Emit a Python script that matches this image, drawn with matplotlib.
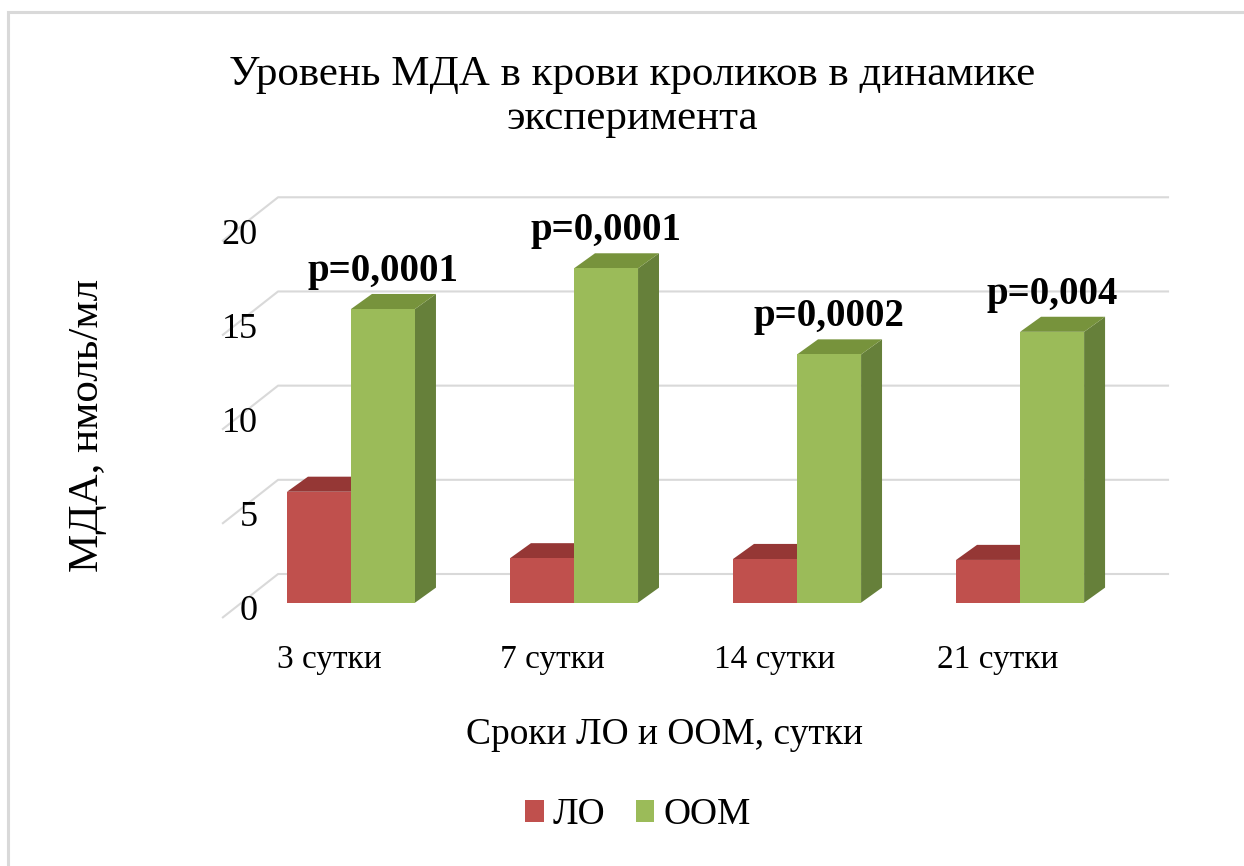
import matplotlib.pyplot as plt
import numpy as np
from matplotlib.patches import Polygon, Patch, Rectangle

plt.rcParams['font.family'] = ['Liberation Serif', 'DejaVu Serif']

days    = ['3 сутки', '7 сутки', '14 сутки', '21 сутки']
lo      = [5.89, 2.36, 2.32, 2.27]
oom     = [15.59, 17.75, 13.18, 14.38]
pvals   = ['p=0,0001', 'p=0,0001', 'p=0,0002', 'p=0,004']
yticks  = [0, 5, 10, 15, 20]

# front / top / side colours of the pseudo-3D columns
red   = ('#C0504D', '#953735', '#7F2C2A')
green = ('#9BBB59', '#77933C', '#66803A')

W = 0.287              # column width, category units
DX, DY = 0.094, 0.80   # depth shift of the column top/side
FLOOR_X0, FLOOR_X1, WALL_X1 = -0.578, -0.327, 3.668

fig = plt.figure(figsize=(12.44, 8.66), dpi=100)
fig.patches.append(Rectangle((8/1244, -0.1), 1.2, 1 - 12/866 + 0.1, transform=fig.transFigure,
                             fill=False, edgecolor='#d9d9d9', lw=2.2))
ax = fig.add_axes([200/1244, (866-625)/866, 980/1244, 445/866])
ax.set_xlim(-0.677, 3.717)
ax.set_ylim(-1.184, 22.44)
ax.axis('off')

# back wall gridlines with slanted floor part
for v in yticks:
    ax.plot([FLOOR_X0, FLOOR_X1, WALL_X1], [v - 0.812, v + 1.523, v + 1.523],
            color='#d9d9d9', lw=1.5, zorder=1, solid_capstyle='butt')
    ax.text(-0.417, v - 0.49, str(v), ha='right', va='center', fontsize=26)


def column(x0, h, cols):
    front, top, side = cols
    ax.add_patch(Polygon([(x0 + W, 0), (x0 + W + DX, DY), (x0 + W + DX, h + DY), (x0 + W, h)],
                         closed=True, facecolor=side, edgecolor='none', zorder=2))
    ax.add_patch(Polygon([(x0, h), (x0 + DX, h + DY), (x0 + W + DX, h + DY), (x0 + W, h)],
                         closed=True, facecolor=top, edgecolor='none', zorder=2))
    ax.bar(x0, h, width=W, align='edge', color=front, zorder=3)


x = np.arange(len(days))
for i in x:
    column(i - W, lo[i], red)
    column(i, oom[i], green)
    ax.annotate(pvals[i], (i + W / 2, oom[i] + DY), xytext=(0, 3), textcoords='offset points',
                ha='center', va='bottom', fontsize=28, fontweight='bold', zorder=4)
    ax.text(i - 0.099, -3.04, days[i], ha='center', va='center', fontsize=24, clip_on=False)

fig.text(632/1244, 1 - 97/866, 'Уровень МДА в крови кроликов в динамике\nэксперимента',
         ha='center', va='center', fontsize=31, linespacing=1.2)
fig.text(88/1244, 1 - 425/866, 'МДА, нмоль/мл', rotation=90, ha='center', va='center', fontsize=31)
fig.text(665/1244, 1 - 735/866, 'Сроки ЛО и ООМ, сутки', ha='center', va='center', fontsize=27)

handles = [Patch(facecolor=red[0]), Patch(facecolor=green[0])]
fig.legend(handles, ['ЛО', 'ООМ'], loc='center', bbox_to_anchor=(638/1244, 1 - 815/866),
           ncol=2, frameon=False, fontsize=27, handlelength=0.5, handleheight=0.5,
           handletextpad=0.25, columnspacing=0.8)

fig.savefig('out.png', dpi=100)
